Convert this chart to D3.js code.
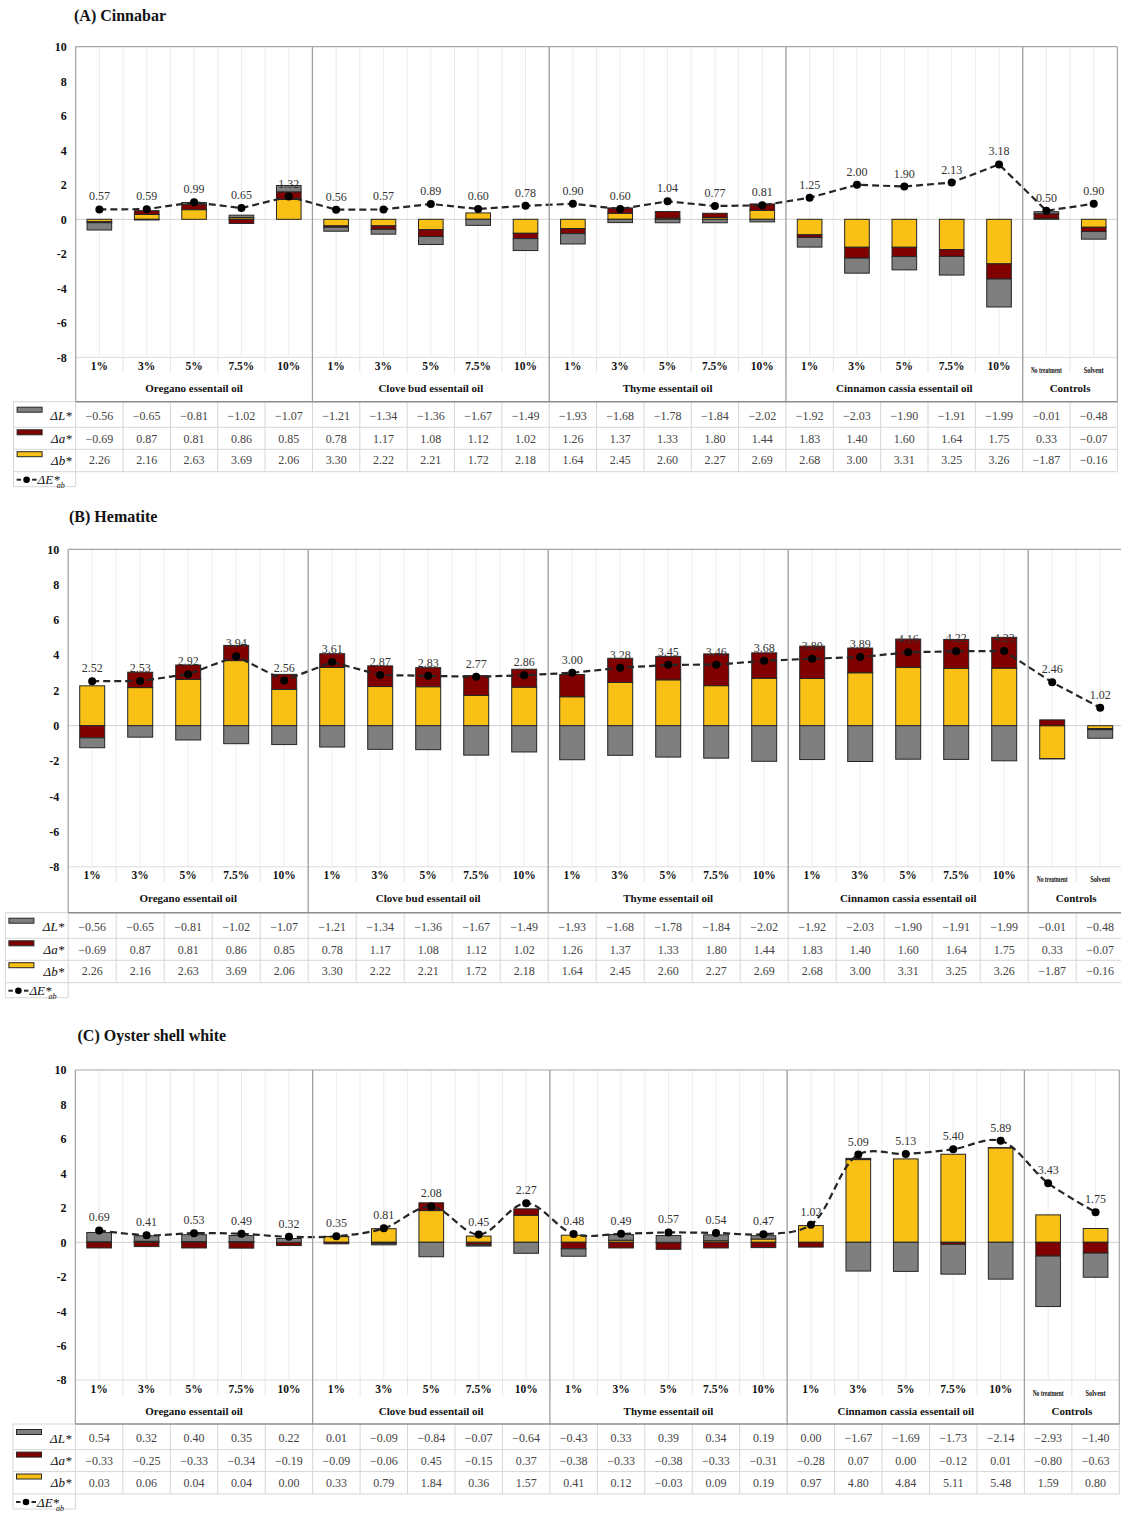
<!DOCTYPE html>
<html>
<head>
<meta charset="utf-8">
<script src="https://cdn.jsdelivr.net/npm/d3@7"></script>
<style>
  body { margin: 0; background: #fff; }
  svg { display: block; }
</style>
</head>
<body>
<svg id="chart" width="1121" height="1513"></svg>
<script>
// ---- categories ----
const concentrations = ["1%", "3%", "5%", "7.5%", "10%"];
const categories = [
  ...concentrations, ...concentrations, ...concentrations, ...concentrations,
  "No treatment", "Solvent"
];
const groups = ["Oregano essentail oil", "Clove bud essentail oil", "Thyme essentail oil",
                "Cinnamon cassia essentail oil", "Controls"];
const groupSizes = [5, 5, 5, 5, 2];
const yTicks = [10, 8, 6, 4, 2, 0, -2, -4, -6, -8];

// ---- (A) Cinnabar: stacked colour differences and total ΔE*ab ----
const cinnabarL = [-0.42, -0.04, 0.10, 0.14, 0.37,  -0.23, -0.28, -0.46, -0.35, -0.69,
                   -0.60, -0.19, -0.20, -0.20, -0.15, -0.56, -0.87, -0.77, -1.08, -1.62,
                    0.12, -0.44];
const cinnabarA = [-0.06, 0.22, 0.31, -0.24, 0.44,  -0.08, -0.20, -0.40, 0.00, -0.31,
                   -0.29, 0.31, 0.38, 0.25, 0.37,   -0.15, -0.63, -0.54, -0.40, -0.88,
                    0.26, -0.25];
const cinnabarB = [-0.14, 0.28, 0.56, 0.10, 1.15,   -0.38, -0.38, -0.60, 0.37, -0.81,
                   -0.54, 0.35, 0.07, 0.10, 0.52,   -0.90, -1.62, -1.62, -1.75, -2.58,
                    0.06, -0.46];
const cinnabarDE = [0.57, 0.59, 0.99, 0.65, 1.32,  0.56, 0.57, 0.89, 0.60, 0.78,
                    0.90, 0.60, 1.04, 0.77, 0.81,  1.25, 2.00, 1.90, 2.13, 3.18,
                    0.50, 0.90];

// ---- (B) Hematite ----
const hematiteL = [-0.56, -0.65, -0.81, -1.02, -1.07,  -1.21, -1.34, -1.36, -1.67, -1.49,
                   -1.93, -1.68, -1.78, -1.84, -2.02,  -1.92, -2.03, -1.90, -1.91, -1.99,
                   -0.01, -0.48];
const hematiteA = [-0.69, 0.87, 0.81, 0.86, 0.85,  0.78, 1.17, 1.08, 1.12, 1.02,
                    1.26, 1.37, 1.33, 1.80, 1.44,  1.83, 1.40, 1.60, 1.64, 1.75,
                    0.33, -0.07];
const hematiteB = [2.26, 2.16, 2.63, 3.69, 2.06,  3.30, 2.22, 2.21, 1.72, 2.18,
                   1.64, 2.45, 2.60, 2.27, 2.69,  2.68, 3.00, 3.31, 3.25, 3.26,
                   -1.87, -0.16];
const hematiteDE = [2.52, 2.53, 2.92, 3.94, 2.56,  3.61, 2.87, 2.83, 2.77, 2.86,
                    3.00, 3.28, 3.45, 3.46, 3.68,  3.80, 3.89, 4.16, 4.22, 4.23,
                    2.46, 1.02];

// ---- (C) Oyster shell white ----
const oysterL = [0.54, 0.32, 0.40, 0.35, 0.22,  0.01, -0.09, -0.84, -0.07, -0.64,
                 -0.43, 0.33, 0.39, 0.34, 0.19,  0.00, -1.67, -1.69, -1.73, -2.14,
                 -2.93, -1.40];
const oysterA = [-0.33, -0.25, -0.33, -0.34, -0.19,  -0.09, -0.06, 0.45, -0.15, 0.37,
                 -0.38, -0.33, -0.38, -0.33, -0.31,  -0.28, 0.07, 0.00, -0.12, 0.01,
                 -0.80, -0.63];
const oysterB = [0.03, 0.06, 0.04, 0.04, 0.00,  0.33, 0.79, 1.84, 0.36, 1.57,
                 0.41, 0.12, -0.03, 0.09, 0.19,  0.97, 4.80, 4.84, 5.11, 5.48,
                 1.59, 0.80];
const oysterDE = [0.69, 0.41, 0.53, 0.49, 0.32,  0.35, 0.81, 2.08, 0.45, 2.27,
                  0.48, 0.49, 0.57, 0.54, 0.47,  1.02, 5.09, 5.13, 5.40, 5.89,
                  3.43, 1.75];

// ---- styling ----
const serif = "'Liberation Serif', 'Times New Roman', Times, serif";
const stackKeys = ["b", "a", "L"];
const fills = { L: "#7f7f7f", a: "#800000", b: "#f9c116" };
const legendRows = [
  { key: "L", name: "ΔL*" },
  { key: "a", name: "Δa*" },
  { key: "b", name: "Δb*" }
];
const fmt = v => d3.format(".2f")(v).replace("-", "\u2212");

const svg = d3.select("#chart");

const panels = [
  { title: "(A) Cinnabar", titleX: 74, titleY: 21,
    left: 75.7, catW: 47.35, top: 46.7, bottomY: 357.4, axisBottom: 401.7, legendLeft: 13.6,
    bars: { L: cinnabarL, a: cinnabarA, b: cinnabarB },
    // the data table printed under panel A carries the same figures as panel B
    table: { L: hematiteL, a: hematiteA, b: hematiteB },
    dE: cinnabarDE, smooth: false },
  { title: "(B) Hematite", titleX: 69, titleY: 521.5,
    left: 68.2, catW: 48.0, top: 549.3, bottomY: 866.8, axisBottom: 912.7, legendLeft: 5.4,
    bars: { L: hematiteL, a: hematiteA, b: hematiteB },
    table: { L: hematiteL, a: hematiteA, b: hematiteB },
    dE: hematiteDE, smooth: false },
  { title: "(C) Oyster shell white", titleX: 77.5, titleY: 1040.5,
    left: 75.4, catW: 47.45, top: 1070, bottomY: 1380.1, axisBottom: 1424, legendLeft: 13,
    bars: { L: oysterL, a: oysterA, b: oysterB },
    table: { L: oysterL, a: oysterA, b: oysterB },
    dE: oysterDE, smooth: true }
];

panels.forEach(drawPanel);

function drawPanel(p) {
  const n = categories.length;
  const right = p.left + n * p.catW;
  const g = svg.append("g");

  const x = d3.scaleBand().domain(d3.range(n)).range([p.left, right])
    .paddingInner(0.48).paddingOuter(0.24);
  const step = x.step();
  const cx = i => x(i) + x.bandwidth() / 2;
  const edge = i => p.left + i * step;
  const y = d3.scaleLinear().domain([-8, 10]).range([p.bottomY, p.top]);

  // title
  g.append("text").attr("x", p.titleX).attr("y", p.titleY)
    .attr("font-family", serif).attr("font-weight", "bold").attr("font-size", 16)
    .attr("fill", "#111").text(p.title);

  // light vertical gridlines at category centres and edges
  for (let i = 0; i <= n; i++) {
    g.append("line").attr("x1", edge(i)).attr("x2", edge(i))
      .attr("y1", p.top).attr("y2", p.bottomY).attr("stroke", "#ececec").attr("stroke-width", 1);
    if (i < n) {
      g.append("line").attr("x1", cx(i)).attr("x2", cx(i))
        .attr("y1", p.top).attr("y2", p.bottomY).attr("stroke", "#ececec").attr("stroke-width", 1);
    }
  }
  // tick marks between category labels
  for (let i = 1; i < n; i++) {
    g.append("line").attr("x1", edge(i)).attr("x2", edge(i))
      .attr("y1", p.bottomY).attr("y2", p.bottomY + 15).attr("stroke", "#e3e3e3").attr("stroke-width", 1);
  }
  // plot bottom edge (-8) and zero line
  g.append("line").attr("x1", p.left).attr("x2", right).attr("y1", p.bottomY).attr("y2", p.bottomY)
    .attr("stroke", "#dddddd").attr("stroke-width", 1);
  g.append("line").attr("x1", p.left).attr("x2", right).attr("y1", y(0)).attr("y2", y(0))
    .attr("stroke", "#d9d9d9").attr("stroke-width", 1.2);

  // stacked bars
  const rows = d3.range(n).map(i => ({ L: p.bars.L[i], a: p.bars.a[i], b: p.bars.b[i] }));
  const series = d3.stack().keys(stackKeys).offset(d3.stackOffsetDiverging)(rows);
  series.forEach(s => {
    g.append("g").selectAll("rect")
      .data(s.map((d, i) => ({ d, i })).filter(o => o.d[1] !== o.d[0]))
      .join("rect")
      .attr("x", o => x(o.i))
      .attr("width", x.bandwidth())
      .attr("y", o => y(Math.max(o.d[0], o.d[1])))
      .attr("height", o => Math.abs(y(o.d[0]) - y(o.d[1])))
      .attr("fill", fills[s.key])
      .attr("stroke", "#262626").attr("stroke-width", 1);
  });

  // ΔE*ab line, markers and labels
  const line = d3.line().x((d, i) => cx(i)).y(d => y(d))
    .curve(p.smooth ? d3.curveCatmullRom.alpha(0.5) : d3.curveLinear);
  g.append("path").datum(p.dE).attr("d", line).attr("fill", "none")
    .attr("stroke", "#262626").attr("stroke-width", 2.2).attr("stroke-dasharray", "7,4");
  g.append("g").selectAll("circle").data(p.dE).join("circle")
    .attr("cx", (d, i) => cx(i)).attr("cy", d => y(d)).attr("r", 4).attr("fill", "#000");
  g.append("g").selectAll("text").data(p.dE).join("text")
    .attr("x", (d, i) => cx(i)).attr("y", d => y(d) - 9)
    .attr("text-anchor", "middle").attr("font-family", serif).attr("font-size", 12)
    .attr("fill", "#333").text(d => d.toFixed(2));

  // y axis
  const yAxis = d3.axisLeft(y).tickValues(yTicks).tickSize(0).tickPadding(9)
    .tickFormat(d => String(d));
  const ya = g.append("g").attr("transform", `translate(${p.left},0)`).call(yAxis);
  ya.select(".domain").remove();
  ya.selectAll("text").attr("font-family", serif).attr("font-weight", "bold")
    .attr("font-size", 12).attr("fill", "#111");

  // category labels
  categories.forEach((c, i) => {
    const isControl = i >= 20;
    const t = g.append("text").attr("x", cx(i))
      .attr("y", p.bottomY + (isControl ? 13 : 8.5))
      .attr("dy", "0.35em").attr("text-anchor", "middle")
      .attr("font-family", serif).attr("font-weight", "bold")
      .attr("font-size", isControl ? 7.5 : 11.5).attr("fill", "#111").text(c);
    if (isControl) {
      t.attr("textLength", c === "Solvent" ? 20 : 31).attr("lengthAdjust", "spacingAndGlyphs");
    }
  });

  // group labels and separators
  let start = 0;
  groups.forEach((name, k) => {
    const x0 = edge(start), x1 = edge(start + groupSizes[k]);
    g.append("text").attr("x", (x0 + x1) / 2).attr("y", p.bottomY + 31).attr("dy", "0.35em")
      .attr("text-anchor", "middle").attr("font-family", serif).attr("font-weight", "bold")
      .attr("font-size", 11).attr("fill", "#111").text(name);
    start += groupSizes[k];
    if (k < groups.length - 1) {
      g.append("line").attr("x1", x1).attr("x2", x1).attr("y1", p.top).attr("y2", p.axisBottom)
        .attr("stroke", "#a0a0a0").attr("stroke-width", 1.3);
    }
  });

  // plot frame
  g.append("line").attr("x1", p.left).attr("x2", right).attr("y1", p.top).attr("y2", p.top)
    .attr("stroke", "#a6a6a6").attr("stroke-width", 1.2);
  g.append("line").attr("x1", right).attr("x2", right).attr("y1", p.top).attr("y2", p.axisBottom)
    .attr("stroke", "#a6a6a6").attr("stroke-width", 1.2);
  g.append("line").attr("x1", p.left).attr("x2", p.left).attr("y1", p.top).attr("y2", p.axisBottom)
    .attr("stroke", "#a6a6a6").attr("stroke-width", 1.3);

  // data table
  const rowEdges = [0, 25.6, 47.6, 70, 85].map(v => p.axisBottom + v);
  const rowMid = [14, 36.6, 58.5, 78].map(v => p.axisBottom + v);
  const tableStroke = "#d6d6d6";
  // horizontal rules
  for (let r = 1; r <= 3; r++) {
    g.append("line").attr("x1", p.legendLeft).attr("x2", right)
      .attr("y1", rowEdges[r]).attr("y2", rowEdges[r]).attr("stroke", tableStroke);
  }
  g.append("line").attr("x1", p.legendLeft).attr("x2", p.left)
    .attr("y1", rowEdges[0]).attr("y2", rowEdges[0]).attr("stroke", tableStroke);
  g.append("line").attr("x1", p.legendLeft).attr("x2", p.left)
    .attr("y1", rowEdges[4]).attr("y2", rowEdges[4]).attr("stroke", tableStroke);
  // vertical rules
  g.append("line").attr("x1", p.legendLeft).attr("x2", p.legendLeft)
    .attr("y1", rowEdges[0]).attr("y2", rowEdges[4]).attr("stroke", tableStroke);
  g.append("line").attr("x1", p.left).attr("x2", p.left)
    .attr("y1", rowEdges[0]).attr("y2", rowEdges[4]).attr("stroke", tableStroke);
  for (let i = 1; i <= n; i++) {
    g.append("line").attr("x1", edge(i)).attr("x2", edge(i))
      .attr("y1", rowEdges[0]).attr("y2", rowEdges[3]).attr("stroke", tableStroke);
  }
  // axis bottom rule
  g.append("line").attr("x1", p.left).attr("x2", right).attr("y1", p.axisBottom).attr("y2", p.axisBottom)
    .attr("stroke", "#8c8c8c").attr("stroke-width", 1.6);

  // legend keys and table values
  legendRows.forEach((row, r) => {
    g.append("rect").attr("x", p.legendLeft + 3.5).attr("y", rowMid[r] - 8.5)
      .attr("width", 25).attr("height", 5)
      .attr("fill", fills[row.key]).attr("stroke", "#262626").attr("stroke-width", 1);
    g.append("text").attr("x", p.left - 4).attr("y", rowMid[r]).attr("dy", "0.35em")
      .attr("text-anchor", "end").attr("font-family", serif).attr("font-style", "italic")
      .attr("font-size", 13).attr("fill", "#111").text(row.name);
    g.append("g").selectAll("text").data(p.table[row.key]).join("text")
      .attr("x", (d, i) => cx(i)).attr("y", rowMid[r]).attr("dy", "0.35em")
      .attr("text-anchor", "middle").attr("font-family", serif).attr("font-size", 12)
      .attr("fill", "#444").text(d => fmt(d));
  });

  // ΔE*ab legend entry
  const ly = rowMid[3];
  const lx = p.legendLeft;
  g.append("line").attr("x1", lx + 3).attr("x2", lx + 7.5).attr("y1", ly).attr("y2", ly)
    .attr("stroke", "#262626").attr("stroke-width", 2);
  g.append("circle").attr("cx", lx + 13).attr("cy", ly).attr("r", 3.3).attr("fill", "#000");
  g.append("line").attr("x1", lx + 18.5).attr("x2", lx + 23).attr("y1", ly).attr("y2", ly)
    .attr("stroke", "#262626").attr("stroke-width", 2);
  const lt = g.append("text").attr("x", lx + 24).attr("y", ly).attr("dy", "0.35em")
    .attr("font-family", serif).attr("font-style", "italic").attr("font-size", 13).attr("fill", "#111");
  lt.append("tspan").text("ΔE*");
  lt.append("tspan").attr("dx", -3).attr("dy", 4).attr("font-size", 8).text("ab");
}
</script>
</body>
</html>
